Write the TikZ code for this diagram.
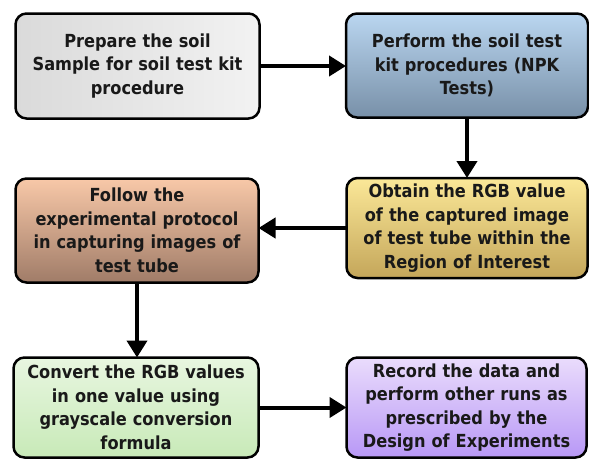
\documentclass[tikz,border=0pt]{standalone}
\usepackage{fontspec}
\newfontfamily\boxfont{DejaVuSansCondensed-Bold.ttf}
\usetikzlibrary{arrows.meta}
\definecolor{graL}{HTML}{DADADA}\definecolor{graR}{HTML}{F2F2F2}
\definecolor{bluT}{HTML}{BAD6F0}\definecolor{bluB}{HTML}{7890A8}
\definecolor{yelT}{HTML}{FBE898}\definecolor{yelB}{HTML}{C4A65A}
\definecolor{oraT}{HTML}{F8C8A8}\definecolor{oraB}{HTML}{A07C68}
\definecolor{greT}{HTML}{E8F6E0}\definecolor{greB}{HTML}{C8EAB8}
\definecolor{purT}{HTML}{EADCFC}\definecolor{purB}{HTML}{B898F6}
\tikzset{
  flowbox/.style={draw=black, line width=2.5pt, rounded corners=11pt,
    inner sep=0pt, outer sep=0pt, align=center, text width=#1,
    font=\boxfont\fontsize{18pt}{23.5pt}\selectfont, text=black!90},
  flowarrow/.style={line width=4pt, -{Triangle[width=20pt,length=17pt]}}
}
\begin{document}
\begin{tikzpicture}[x=1pt,y=-1pt]
\useasboundingbox (0,0) rectangle (589,459);
\node[flowbox=225pt, minimum width=244pt, minimum height=105pt, left color=graL, right color=graR] (a) at (137.5,66)
  {Prepare the soil\\Sample for soil test kit\\procedure};
\node[flowbox=225pt, minimum width=242pt, minimum height=104pt, top color=bluT, bottom color=bluB] (b) at (467,65.5)
  {Perform the soil test\\kit procedures (NPK\\Tests)};
\node[flowbox=230pt, minimum width=241pt, minimum height=100pt, top color=yelT, bottom color=yelB] (c) at (467,228)
  {Obtain the RGB value\\of the captured image\\of test tube within the\\Region of Interest};
\node[flowbox=230pt, minimum width=243pt, minimum height=104pt, top color=oraT, bottom color=oraB] (d) at (137,230.5)
  {Follow the\\experimental protocol\\in capturing images of\\test tube};
\node[flowbox=230pt, minimum width=245pt, minimum height=100pt, top color=greT, bottom color=greB] (e) at (136,407.5)
  {Convert the RGB values\\in one value using\\grayscale conversion\\formula};
\node[flowbox=230pt, minimum width=240pt, minimum height=100pt, top color=purT, bottom color=purB] (f) at (466.5,407.5)
  {Record the data and\\perform other runs as\\prescribed by the\\Design of Experiments};
\draw[flowarrow] (a.east) -- (a.east -| b.west);
\draw[flowarrow] (b.south) -- (b.south |- c.north);
\draw[flowarrow] (c.west) -- (c.west -| d.east);
\draw[flowarrow] (d.south) -- (d.south |- e.north);
\draw[flowarrow] (e.east) -- (e.east -| f.west);
\end{tikzpicture}
\end{document}
